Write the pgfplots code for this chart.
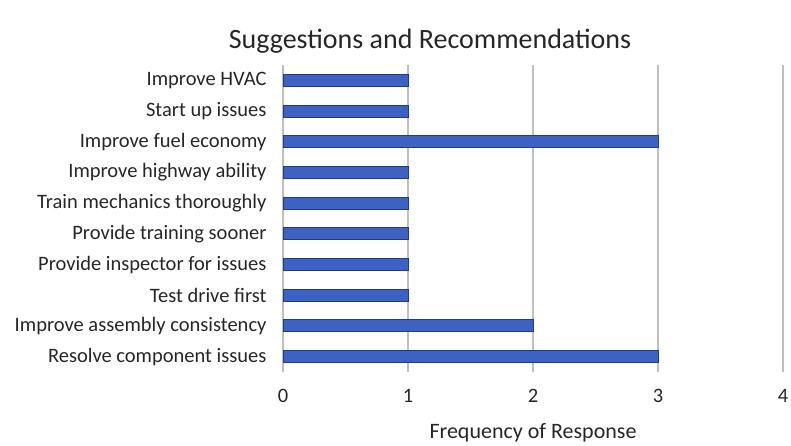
\documentclass[border=0pt]{standalone}
\usepackage{pgfplots}
\pgfplotsset{compat=1.18}
\usepackage{fontspec}
\setmainfont{Carlito}
\definecolor{barfill}{HTML}{3D62C2}
\definecolor{baredge}{HTML}{1E3A8A}
\definecolor{gridc}{HTML}{BFBFBF}
\begin{document}
\begin{tikzpicture}[x=1pt,y=1pt]
\path[use as bounding box] (0,0) rectangle (791,445);
\begin{axis}[
  at={(283pt,73pt)}, anchor=south west,
  scale only axis, width=500pt, height=307pt,
  xbar, bar width=12pt,
  xmin=0, xmax=4, ymin=-0.5, ymax=9.5,
  xtick={0,1,2,3,4},
  ytick={0,...,9},
  yticklabels={Resolve component issues,Improve assembly consistency,Test drive first,Provide inspector for issues,Provide training sooner,Train mechanics thoroughly,Improve highway ability,Improve fuel economy,Start up issues,Improve HVAC},
  axis line style={draw=none},
  major tick length=0pt,
  xmajorgrids, grid style={gridc, line width=1.6pt},
  tick label style={font=\fontsize{20.5}{24}\selectfont, text=black!85},
  yticklabel style={xshift=-13pt},
  xticklabel style={yshift=-14pt},
  /pgf/number format/assume math mode=true,
  xlabel={Frequency of Response},
  xlabel style={font=\fontsize{22}{26}\selectfont, text=black!85, yshift=-14pt},
]
\addplot[fill=barfill, draw=baredge, line width=1pt] coordinates {
(3,0) (2,1) (1,2) (1,3) (1,4) (1,5) (1,6) (3,7) (1,8) (1,9)};
\end{axis}
\node[font=\fontsize{28}{32}\selectfont, text=black!85] at (430,404) {Suggestions and Recommendations};
\end{tikzpicture}
\end{document}
